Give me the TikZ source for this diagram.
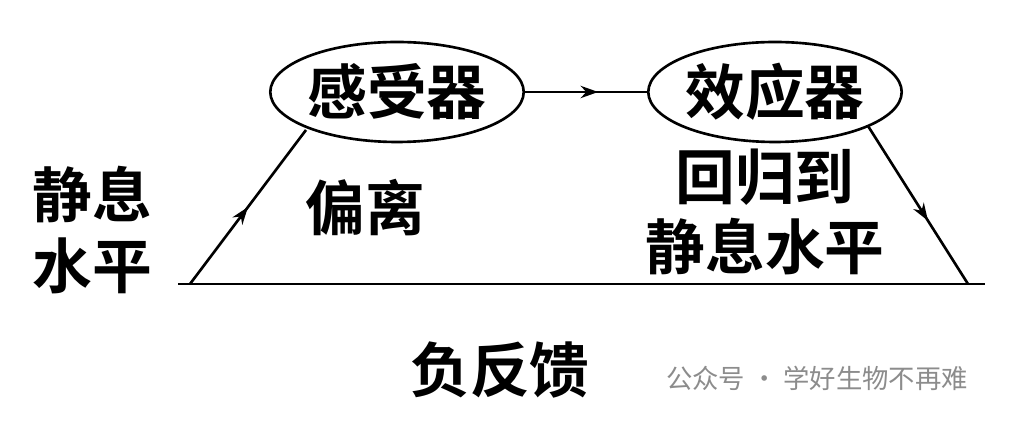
\documentclass[tikz,border=0pt]{standalone}
\usepackage{fontspec}
\newfontfamily\cjk[BoldFont={Noto Sans CJK SC Bold}]{Noto Sans CJK SC}
\usetikzlibrary{positioning, arrows.meta, shapes.geometric, decorations.markings}

\begin{document}
\begin{tikzpicture}[
        x=0.02cm, y=-0.02cm,
        organ/.style={ellipse, draw, line width=1.5pt, minimum width=4.9cm, minimum height=2cm, inner sep=0pt, font=\cjk\bfseries\fontsize{34}{38}\selectfont},
        word/.style={font=\cjk\bfseries\fontsize{34}{40}\selectfont, align=center, inner sep=0pt},
        line/.style={line width=1.5pt},
        midarrow/.style={postaction={decorate}, decoration={markings, mark=at position #1 with {\arrow{Stealth[length=10pt, width=7pt]}}}},
    ]
        \useasboundingbox (0,0) rectangle (1014,421);

        % Receptor and effector
        \node[organ] (R) at (397,92) {感受器};
        \node[organ] (E) at (775,92) {效应器};
        \draw[line, midarrow=0.6] (R) -- (E);

        % Baseline
        \coordinate (B0) at (178,284);
        \coordinate (B1) at (985,284);
        \coordinate (L0) at (190,284);
        \coordinate (L1) at (306,130);
        \coordinate (R0) at (868,126);
        \coordinate (R1) at (968,284);
        \draw[line] (B0) -- (B1);

        % Slanted paths
        \draw[line, midarrow=0.5] (L0) -- (L1);
        \draw[line, midarrow=0.6] (R0) -- (R1);

        % Labels
        \node[word] (rest) at (92,230) {静息\\水平};
        \node[word] (dev) at (365,208) {偏离};
        \node[word] (back) at (765,212) {回归到\\静息水平};
        \node[word] (nf) at (500,370) {负反馈};
        \node[font=\cjk\fontsize{15}{18}\selectfont, text=black!45, anchor=west] (wm) at (660,378) {公众号 · 学好生物不再难};
\end{tikzpicture}
\end{document}
